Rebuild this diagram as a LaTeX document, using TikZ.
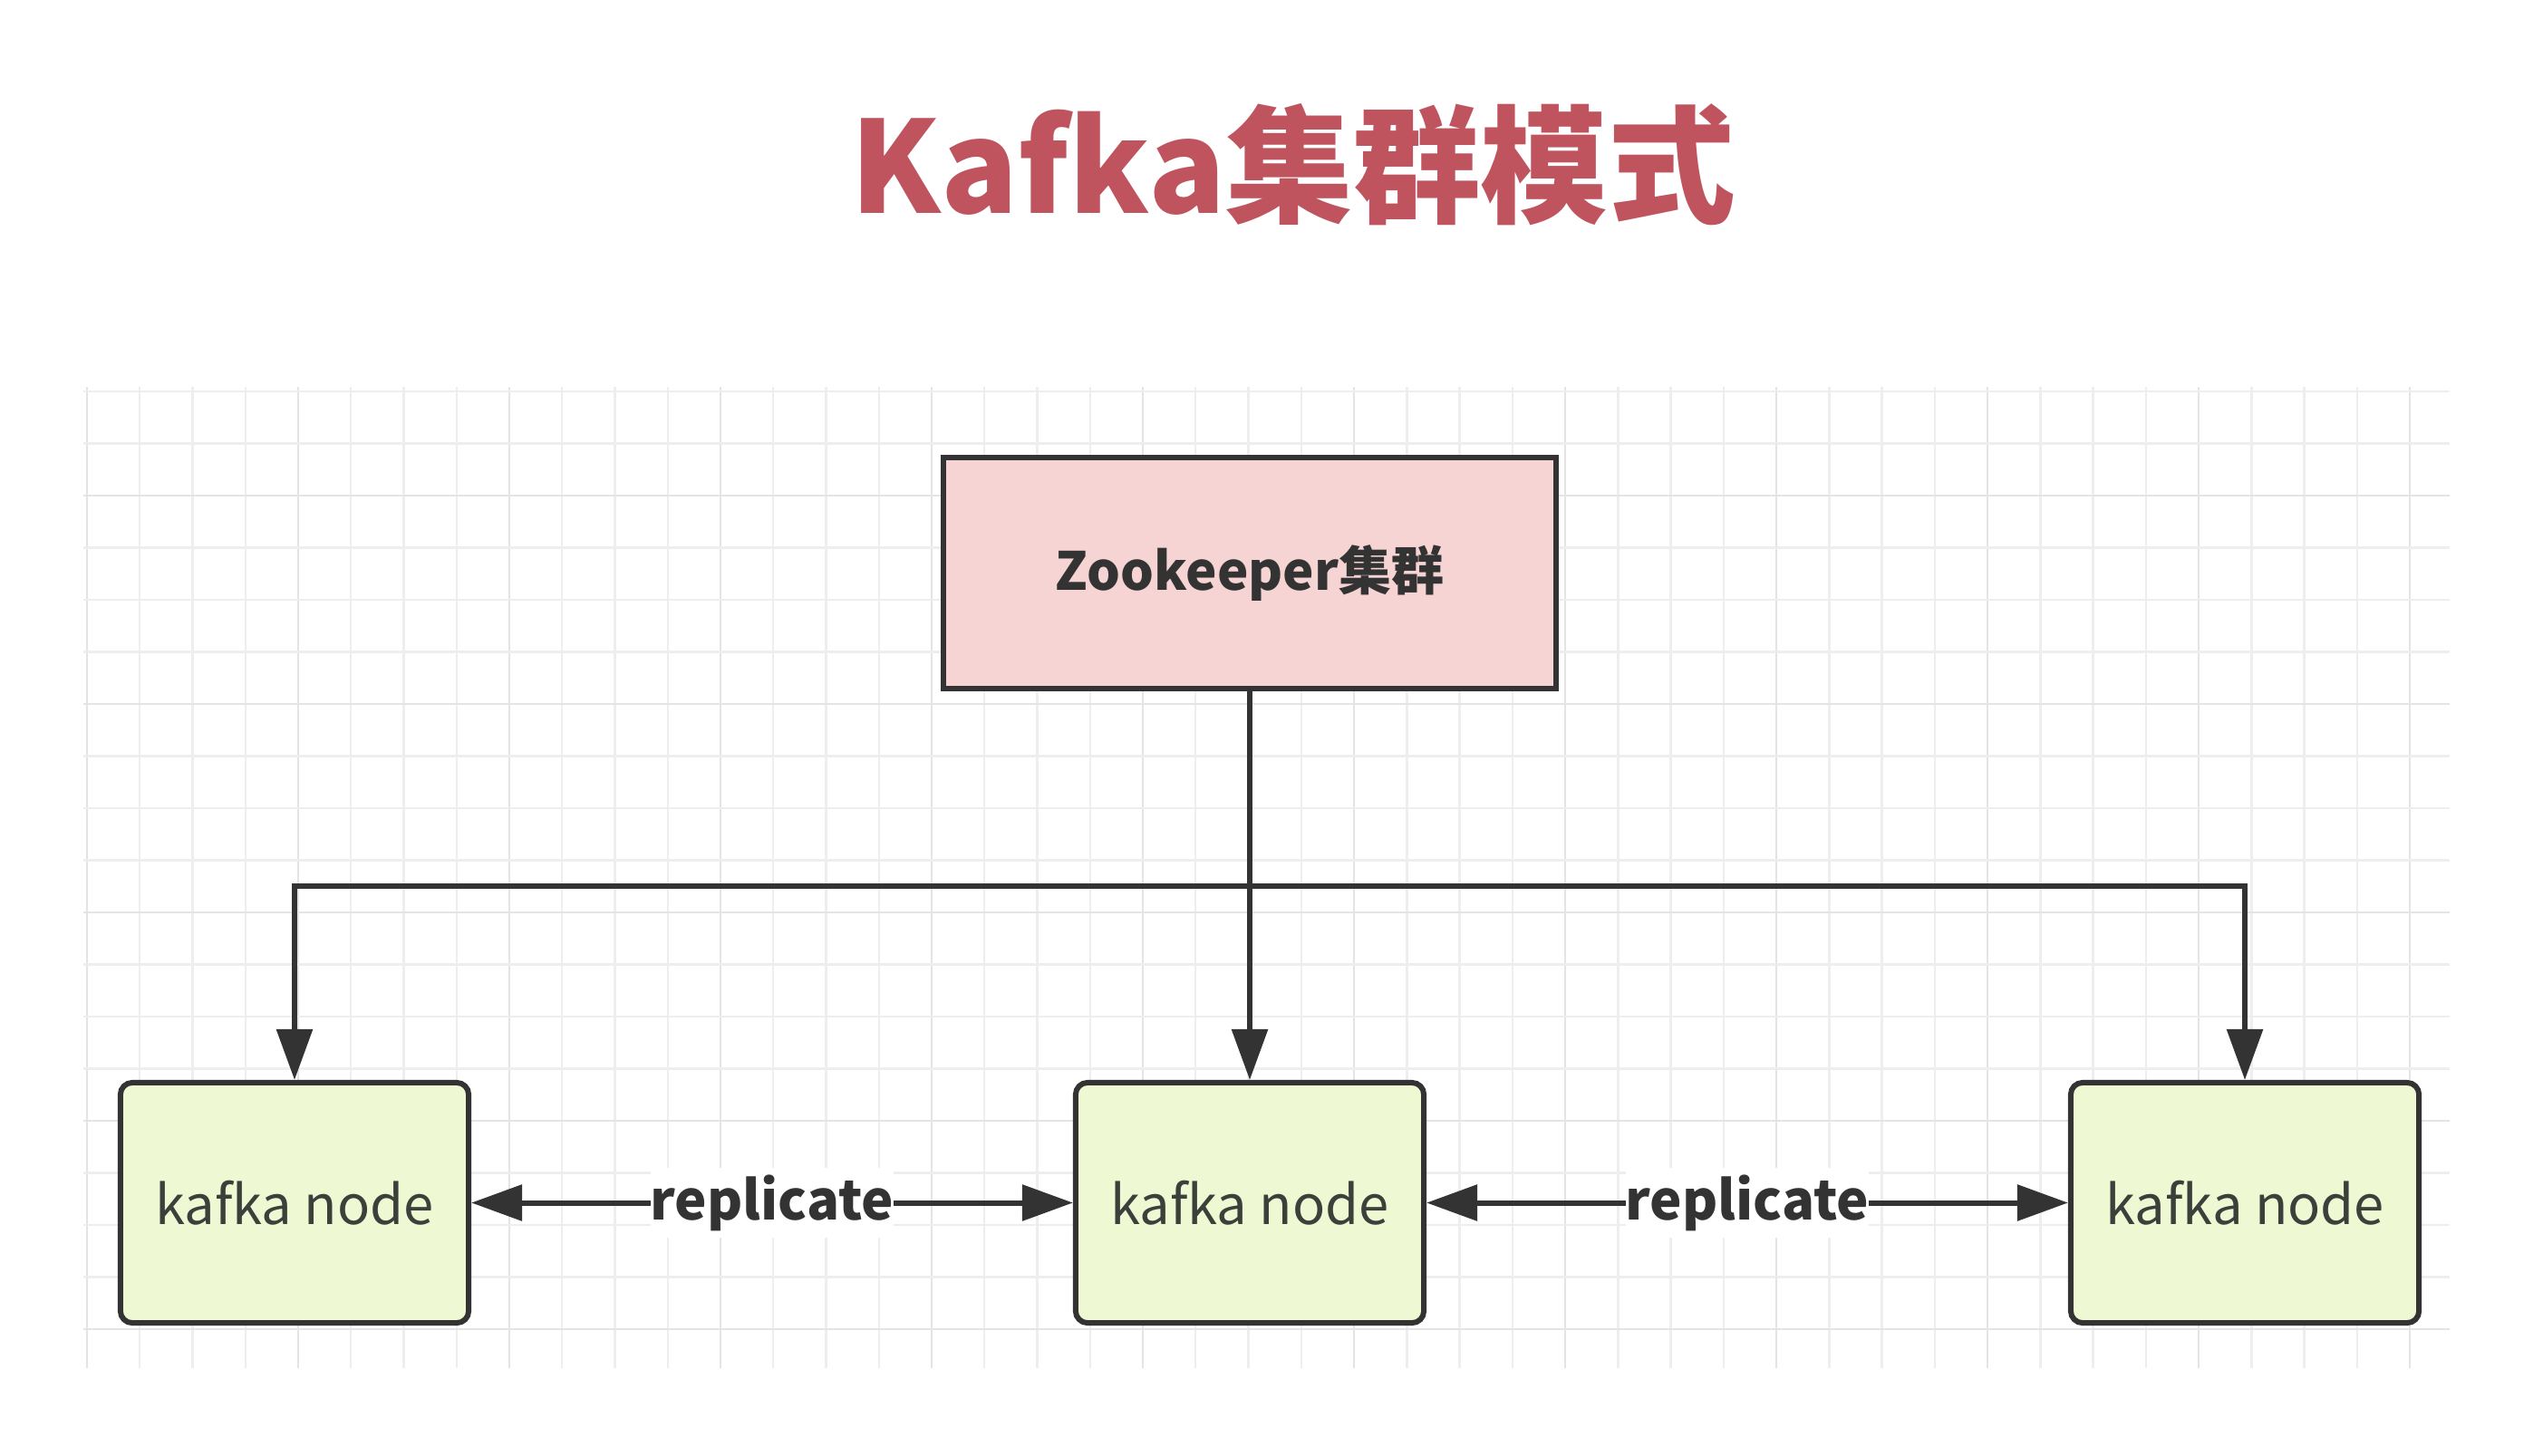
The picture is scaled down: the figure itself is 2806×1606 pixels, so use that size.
\documentclass[tikz,border=0pt]{standalone}
\usepackage{fontspec}
\setmainfont{Noto Sans CJK SC}
\usetikzlibrary{arrows.meta}
\definecolor{titlered}{RGB}{192,84,94}
\definecolor{zkfill}{RGB}{246,212,212}
\definecolor{kfill}{RGB}{238,249,212}
\definecolor{lineclr}{RGB}{51,51,51}
\definecolor{txtclr}{RGB}{60,64,58}
\definecolor{gridminor}{RGB}{238,238,238}
\definecolor{gridmajor}{RGB}{228,228,228}
\tikzset{
  zkbox/.style={draw=lineclr, line width=1.7pt, fill=zkfill, minimum width=6.76cm, minimum height=2.55cm,
    font=\bfseries\fontsize{16.5}{20}\selectfont, text=lineclr},
  kbox/.style={draw=lineclr, line width=1.7pt, fill=kfill, rounded corners=0.13cm, minimum width=3.84cm, minimum height=2.65cm,
    font=\fontsize{17}{21}\selectfont, text=txtclr},
  conn/.style={draw=lineclr, line width=1.7pt, line join=miter},
  tip/.tip={Triangle[length=0.56cm, width=0.39cm]},
  lbl/.style={fill=white, inner xsep=0pt, inner ysep=2pt, font=\bfseries\fontsize{17}{21}\selectfont, text=lineclr},
  gmin/.style={draw=gridminor, line width=0.7pt},
  gmaj/.style={draw=gridmajor, line width=0.8pt}
}
\begin{document}
\begin{tikzpicture}[x=0.01cm, y=-0.01cm]
\useasboundingbox (0,0) rectangle (2806,1606);
\fill[white] (0,0) rectangle (2806,1606);
% grid
\foreach \k in {0,...,44} {
  \pgfmathsetmacro\xx{96+58.25*\k}
  \pgfmathtruncatemacro\m{mod(\k,4)}
  \ifnum\m=0
    \draw[gmaj] (\xx,427) -- (\xx,1510);
  \else
    \draw[gmin] (\xx,427) -- (\xx,1510);
  \fi
}
\foreach \j in {0,...,18} {
  \pgfmathsetmacro\yy{432+57.5*\j}
  \pgfmathtruncatemacro\m{mod(\j,4)}
  \ifnum\m=2
    \draw[gmaj] (92,\yy) -- (2703,\yy);
  \else
    \draw[gmin] (92,\yy) -- (2703,\yy);
  \fi
}
% title
\node[font=\bfseries\fontsize{40}{48}\selectfont, text=titlered] (title) at (1427,182) {Kafka集群模式};
% nodes
\node[zkbox] (zk) at (1379,632.5) {Zookeeper集群};
\node[kbox] (k1) at (325,1327.5) {kafka node};
\node[kbox] (k2) at (1379,1327.5) {kafka node};
\node[kbox] (k3) at (2477,1327.5) {kafka node};
% connectors
\coordinate (bus) at (1379,978);
\draw[conn] (zk.south) -- (bus);
\draw[conn,-tip] (bus) -- (k2.north);
\draw[conn,-tip] (bus) -| (k1.north);
\draw[conn,-tip] (bus) -| (k3.north);
\draw[conn,tip-tip] (k1.east) -- node[lbl] (r1) {replicate} (k2.west);
\draw[conn,tip-tip] (k2.east) -- node[lbl] (r2) {replicate} (k3.west);
\end{tikzpicture}
\end{document}
